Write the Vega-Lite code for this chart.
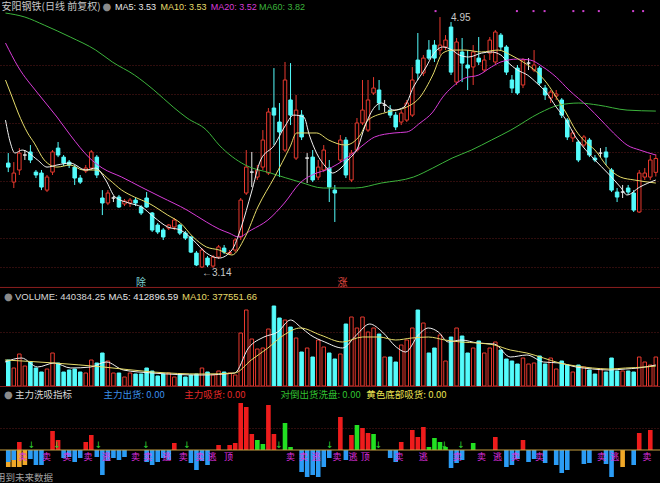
{
"$schema":"https://vega.github.io/schema/vega-lite/v6.json",
"background":"#000000","padding":0,"spacing":0,
"config":{"view":{"stroke":null},"axis":{"labels":false,"ticks":false,"domain":false,"grid":false,"minExtent":0,"maxExtent":0}},
"resolve":{"scale":{"x":"independent","y":"independent","color":"independent"}},
"datasets":{
"k":[
{"i":0,"o":3.897,"h":3.969,"l":3.832,"c":3.868,"v":520000},
{"i":1,"o":3.760,"h":3.904,"l":3.717,"c":3.825,"v":360000},
{"i":2,"o":3.847,"h":4.005,"l":3.811,"c":3.969,"v":640000},
{"i":3,"o":3.955,"h":3.991,"l":3.919,"c":3.955,"v":400000},
{"i":4,"o":3.977,"h":4.027,"l":3.897,"c":3.919,"v":480000},
{"i":5,"o":3.832,"h":3.847,"l":3.789,"c":3.811,"v":360000},
{"i":6,"o":3.825,"h":3.847,"l":3.702,"c":3.724,"v":280000},
{"i":7,"o":3.702,"h":3.811,"l":3.688,"c":3.796,"v":340000},
{"i":8,"o":3.832,"h":3.991,"l":3.811,"c":3.977,"v":660000},
{"i":9,"o":4.005,"h":4.049,"l":3.940,"c":3.955,"v":460000},
{"i":10,"o":3.940,"h":3.955,"l":3.876,"c":3.897,"v":280000},
{"i":11,"o":3.904,"h":3.919,"l":3.861,"c":3.883,"v":320000},
{"i":12,"o":3.868,"h":3.883,"l":3.739,"c":3.789,"v":340000},
{"i":13,"o":3.789,"h":3.811,"l":3.746,"c":3.760,"v":280000},
{"i":14,"o":3.840,"h":3.883,"l":3.825,"c":3.861,"v":260000},
{"i":15,"o":3.861,"h":3.991,"l":3.847,"c":3.977,"v":520000},
{"i":16,"o":3.940,"h":3.955,"l":3.789,"c":3.811,"v":460000},
{"i":17,"o":3.645,"h":3.702,"l":3.522,"c":3.609,"v":660000},
{"i":18,"o":3.609,"h":3.702,"l":3.594,"c":3.681,"v":500000},
{"i":19,"o":3.645,"h":3.659,"l":3.616,"c":3.645,"v":260000},
{"i":20,"o":3.652,"h":3.667,"l":3.573,"c":3.580,"v":260000},
{"i":21,"o":3.602,"h":3.638,"l":3.587,"c":3.623,"v":180000},
{"i":22,"o":3.609,"h":3.645,"l":3.580,"c":3.630,"v":260000},
{"i":23,"o":3.630,"h":3.645,"l":3.587,"c":3.609,"v":240000},
{"i":24,"o":3.580,"h":3.594,"l":3.522,"c":3.537,"v":240000},
{"i":25,"o":3.645,"h":3.688,"l":3.573,"c":3.580,"v":360000},
{"i":26,"o":3.537,"h":3.544,"l":3.400,"c":3.414,"v":300000},
{"i":27,"o":3.450,"h":3.465,"l":3.385,"c":3.400,"v":200000},
{"i":28,"o":3.414,"h":3.428,"l":3.342,"c":3.364,"v":240000},
{"i":29,"o":3.428,"h":3.457,"l":3.414,"c":3.450,"v":260000},
{"i":30,"o":3.436,"h":3.501,"l":3.414,"c":3.486,"v":180000},
{"i":31,"o":3.450,"h":3.457,"l":3.378,"c":3.392,"v":240000},
{"i":32,"o":3.392,"h":3.407,"l":3.342,"c":3.356,"v":180000},
{"i":33,"o":3.364,"h":3.371,"l":3.248,"c":3.255,"v":220000},
{"i":34,"o":3.248,"h":3.263,"l":3.154,"c":3.162,"v":240000},
{"i":35,"o":3.147,"h":3.284,"l":3.140,"c":3.270,"v":360000},
{"i":36,"o":3.212,"h":3.227,"l":3.147,"c":3.162,"v":280000},
{"i":37,"o":3.154,"h":3.234,"l":3.140,"c":3.219,"v":220000},
{"i":38,"o":3.219,"h":3.306,"l":3.205,"c":3.292,"v":300000},
{"i":39,"o":3.284,"h":3.306,"l":3.241,"c":3.255,"v":280000},
{"i":40,"o":3.244,"h":3.270,"l":3.234,"c":3.252,"v":260000},
{"i":41,"o":3.270,"h":3.356,"l":3.255,"c":3.342,"v":220000},
{"i":42,"o":3.364,"h":3.645,"l":3.342,"c":3.630,"v":1060000},
{"i":43,"o":3.681,"h":3.991,"l":3.667,"c":3.868,"v":1520000},
{"i":44,"o":3.832,"h":3.977,"l":3.724,"c":3.832,"v":940000},
{"i":45,"o":3.796,"h":3.883,"l":3.775,"c":3.847,"v":740000},
{"i":46,"o":3.868,"h":4.135,"l":3.847,"c":4.063,"v":760000},
{"i":47,"o":3.825,"h":4.294,"l":3.811,"c":4.265,"v":1140000},
{"i":48,"o":4.294,"h":4.582,"l":4.027,"c":4.243,"v":1600000},
{"i":49,"o":4.193,"h":4.330,"l":3.796,"c":4.121,"v":1360000},
{"i":50,"o":3.991,"h":4.626,"l":3.977,"c":4.496,"v":1320000},
{"i":51,"o":4.352,"h":4.618,"l":4.171,"c":4.243,"v":1180000},
{"i":52,"o":3.933,"h":4.388,"l":3.919,"c":4.279,"v":960000},
{"i":53,"o":4.243,"h":4.279,"l":4.063,"c":4.085,"v":680000},
{"i":54,"o":3.933,"h":3.969,"l":3.753,"c":3.933,"v":760000},
{"i":55,"o":3.940,"h":3.991,"l":3.760,"c":3.775,"v":580000},
{"i":56,"o":3.796,"h":3.919,"l":3.775,"c":3.868,"v":920000},
{"i":57,"o":3.847,"h":4.027,"l":3.832,"c":3.991,"v":780000},
{"i":58,"o":3.861,"h":3.919,"l":3.616,"c":3.724,"v":660000},
{"i":59,"o":3.702,"h":3.739,"l":3.472,"c":3.681,"v":540000},
{"i":60,"o":3.919,"h":4.099,"l":3.904,"c":4.063,"v":640000},
{"i":61,"o":4.063,"h":4.085,"l":3.789,"c":3.811,"v":1240000},
{"i":62,"o":3.775,"h":3.991,"l":3.760,"c":3.969,"v":1380000},
{"i":63,"o":3.991,"h":4.222,"l":3.977,"c":4.186,"v":1160000},
{"i":64,"o":4.186,"h":4.496,"l":4.171,"c":4.279,"v":1380000},
{"i":65,"o":4.135,"h":4.496,"l":4.121,"c":4.352,"v":1080000},
{"i":66,"o":4.402,"h":4.517,"l":4.388,"c":4.438,"v":1160000},
{"i":67,"o":4.424,"h":4.496,"l":4.279,"c":4.330,"v":1040000},
{"i":68,"o":4.315,"h":4.352,"l":4.265,"c":4.315,"v":580000},
{"i":69,"o":4.279,"h":4.315,"l":4.222,"c":4.243,"v":580000},
{"i":70,"o":4.243,"h":4.265,"l":4.135,"c":4.157,"v":480000},
{"i":71,"o":4.193,"h":4.279,"l":4.171,"c":4.258,"v":820000},
{"i":72,"o":4.207,"h":4.352,"l":4.193,"c":4.330,"v":920000},
{"i":73,"o":4.243,"h":4.590,"l":4.229,"c":4.496,"v":1160000},
{"i":74,"o":4.640,"h":4.835,"l":4.496,"c":4.546,"v":1520000},
{"i":75,"o":4.546,"h":4.676,"l":4.525,"c":4.654,"v":1260000},
{"i":76,"o":4.712,"h":4.784,"l":4.640,"c":4.654,"v":660000},
{"i":77,"o":4.748,"h":4.784,"l":4.626,"c":4.654,"v":760000},
{"i":78,"o":4.712,"h":4.950,"l":4.676,"c":4.748,"v":1020000},
{"i":79,"o":4.734,"h":4.820,"l":4.712,"c":4.784,"v":500000},
{"i":80,"o":4.878,"h":4.914,"l":4.532,"c":4.553,"v":980000},
{"i":81,"o":4.481,"h":4.799,"l":4.460,"c":4.770,"v":1160000},
{"i":82,"o":4.698,"h":4.799,"l":4.481,"c":4.618,"v":1000000},
{"i":83,"o":4.604,"h":4.712,"l":4.424,"c":4.582,"v":660000},
{"i":84,"o":4.590,"h":4.748,"l":4.460,"c":4.698,"v":760000},
{"i":85,"o":4.654,"h":4.806,"l":4.604,"c":4.626,"v":900000},
{"i":86,"o":4.568,"h":4.676,"l":4.553,"c":4.640,"v":660000},
{"i":87,"o":4.690,"h":4.806,"l":4.640,"c":4.784,"v":760000},
{"i":88,"o":4.626,"h":4.856,"l":4.611,"c":4.842,"v":880000},
{"i":89,"o":4.820,"h":4.835,"l":4.712,"c":4.734,"v":720000},
{"i":90,"o":4.734,"h":4.748,"l":4.532,"c":4.553,"v":540000},
{"i":91,"o":4.496,"h":4.532,"l":4.402,"c":4.438,"v":500000},
{"i":92,"o":4.582,"h":4.604,"l":4.388,"c":4.402,"v":440000},
{"i":93,"o":4.460,"h":4.654,"l":4.438,"c":4.640,"v":560000},
{"i":94,"o":4.618,"h":4.654,"l":4.568,"c":4.618,"v":440000},
{"i":95,"o":4.568,"h":4.712,"l":4.553,"c":4.604,"v":460000},
{"i":96,"o":4.582,"h":4.597,"l":4.460,"c":4.474,"v":600000},
{"i":97,"o":4.438,"h":4.460,"l":4.352,"c":4.388,"v":440000},
{"i":98,"o":4.366,"h":4.424,"l":4.330,"c":4.409,"v":560000},
{"i":99,"o":4.380,"h":4.424,"l":4.352,"c":4.395,"v":340000},
{"i":100,"o":4.352,"h":4.366,"l":4.222,"c":4.243,"v":500000},
{"i":101,"o":4.207,"h":4.222,"l":4.063,"c":4.085,"v":420000},
{"i":102,"o":4.078,"h":4.135,"l":4.049,"c":4.114,"v":280000},
{"i":103,"o":4.049,"h":4.063,"l":3.904,"c":3.919,"v":420000},
{"i":104,"o":4.027,"h":4.099,"l":4.013,"c":4.085,"v":380000},
{"i":105,"o":4.063,"h":4.078,"l":3.940,"c":3.955,"v":320000},
{"i":106,"o":3.933,"h":3.955,"l":3.904,"c":3.919,"v":240000},
{"i":107,"o":3.969,"h":4.005,"l":3.940,"c":3.969,"v":340000},
{"i":108,"o":3.977,"h":4.013,"l":3.883,"c":3.940,"v":280000},
{"i":109,"o":3.847,"h":3.861,"l":3.688,"c":3.702,"v":560000},
{"i":110,"o":3.688,"h":3.717,"l":3.616,"c":3.652,"v":300000},
{"i":111,"o":3.688,"h":3.739,"l":3.645,"c":3.688,"v":300000},
{"i":112,"o":3.717,"h":3.739,"l":3.667,"c":3.688,"v":300000},
{"i":113,"o":3.681,"h":3.702,"l":3.544,"c":3.558,"v":280000},
{"i":114,"o":3.544,"h":3.847,"l":3.537,"c":3.825,"v":580000},
{"i":115,"o":3.796,"h":3.861,"l":3.775,"c":3.825,"v":480000},
{"i":116,"o":3.796,"h":3.955,"l":3.775,"c":3.919,"v":420000},
{"i":117,"o":3.830,"h":3.960,"l":3.800,"c":3.930,"v":580000}
],
"ma":[
{"s":"MA60","i":-0.5,"v":4.979},{"s":"MA60","i":3,"v":4.95},{"s":"MA60","i":6.5,"v":4.892},{"s":"MA60","i":11.2,"v":4.806},{"s":"MA60","i":15.8,"v":4.712},{"s":"MA60","i":18.8,"v":4.626},{"s":"MA60","i":22.8,"v":4.532},{"s":"MA60","i":26.3,"v":4.424},{"s":"MA60","i":29.8,"v":4.301},{"s":"MA60","i":32.3,"v":4.222},{"s":"MA60","i":35.8,"v":4.135},{"s":"MA60","i":38.1,"v":4.027},{"s":"MA60","i":42.8,"v":3.883},{"s":"MA60","i":47.4,"v":3.825},{"s":"MA60","i":52.7,"v":3.760},{"s":"MA60","i":56.9,"v":3.717},{"s":"MA60","i":62.7,"v":3.717},{"s":"MA60","i":67.4,"v":3.753},{"s":"MA60","i":73.2,"v":3.796},{"s":"MA60","i":76.7,"v":3.861},{"s":"MA60","i":80.2,"v":3.933},{"s":"MA60","i":83.7,"v":3.991},{"s":"MA60","i":87.3,"v":4.063},{"s":"MA60","i":90.8,"v":4.135},{"s":"MA60","i":96,"v":4.258},{"s":"MA60","i":99.5,"v":4.315},{"s":"MA60","i":103.1,"v":4.330},{"s":"MA60","i":106.6,"v":4.315},{"s":"MA60","i":111.8,"v":4.279},{"s":"MA60","i":117,"v":4.272},
{"s":"MA20","i":-0.5,"v":4.763},{"s":"MA20","i":1.8,"v":4.590},{"s":"MA20","i":5.3,"v":4.402},{"s":"MA20","i":8.8,"v":4.229},{"s":"MA20","i":11.2,"v":4.099},{"s":"MA20","i":14.7,"v":3.933},{"s":"MA20","i":17,"v":3.861},{"s":"MA20","i":20.5,"v":3.796},{"s":"MA20","i":24,"v":3.724},{"s":"MA20","i":27.6,"v":3.652},{"s":"MA20","i":32.3,"v":3.558},{"s":"MA20","i":35.8,"v":3.472},{"s":"MA20","i":38.1,"v":3.421},{"s":"MA20","i":39.9,"v":3.392},{"s":"MA20","i":41.6,"v":3.364},{"s":"MA20","i":43.9,"v":3.414},{"s":"MA20","i":46.9,"v":3.486},{"s":"MA20","i":49.9,"v":3.609},{"s":"MA20","i":52.7,"v":3.753},{"s":"MA20","i":55.7,"v":3.825},{"s":"MA20","i":57.4,"v":3.847},{"s":"MA20","i":61.4,"v":3.940},{"s":"MA20","i":63.9,"v":4.020},{"s":"MA20","i":66.2,"v":4.085},{"s":"MA20","i":69.7,"v":4.114},{"s":"MA20","i":72,"v":4.121},{"s":"MA20","i":74.4,"v":4.186},{"s":"MA20","i":76.7,"v":4.265},{"s":"MA20","i":78.5,"v":4.373},{"s":"MA20","i":80.2,"v":4.445},{"s":"MA20","i":82.5,"v":4.510},{"s":"MA20","i":85,"v":4.532},{"s":"MA20","i":87.3,"v":4.590},{"s":"MA20","i":89,"v":4.626},{"s":"MA20","i":92,"v":4.647},{"s":"MA20","i":94.3,"v":4.640},{"s":"MA20","i":96.6,"v":4.590},{"s":"MA20","i":99,"v":4.517},{"s":"MA20","i":101.3,"v":4.424},{"s":"MA20","i":104.8,"v":4.301},{"s":"MA20","i":107.1,"v":4.207},{"s":"MA20","i":110.1,"v":4.085},{"s":"MA20","i":111.8,"v":4.027},{"s":"MA20","i":114.1,"v":3.991},{"s":"MA20","i":117,"v":3.955},
{"s":"MA10","i":-0.5,"v":4.496},{"s":"MA10","i":0.7,"v":4.373},{"s":"MA10","i":1.8,"v":4.258},{"s":"MA10","i":3.5,"v":4.114},{"s":"MA10","i":4.7,"v":4.041},{"s":"MA10","i":6.5,"v":3.919},{"s":"MA10","i":8.8,"v":3.868},{"s":"MA10","i":11.2,"v":3.883},{"s":"MA10","i":13.5,"v":3.847},{"s":"MA10","i":15.8,"v":3.847},{"s":"MA10","i":18.3,"v":3.775},{"s":"MA10","i":20.5,"v":3.702},{"s":"MA10","i":22.8,"v":3.652},{"s":"MA10","i":25.3,"v":3.609},{"s":"MA10","i":28.8,"v":3.522},{"s":"MA10","i":31.1,"v":3.465},{"s":"MA10","i":33.4,"v":3.364},{"s":"MA10","i":35.8,"v":3.292},{"s":"MA10","i":38.1,"v":3.270},{"s":"MA10","i":40.4,"v":3.234},{"s":"MA10","i":42.8,"v":3.364},{"s":"MA10","i":45.1,"v":3.580},{"s":"MA10","i":48.1,"v":3.796},{"s":"MA10","i":50.9,"v":4.013},{"s":"MA10","i":52.1,"v":4.114},{"s":"MA10","i":55.7,"v":4.114},{"s":"MA10","i":57.9,"v":4.063},{"s":"MA10","i":60.9,"v":4.027},{"s":"MA10","i":63.6,"v":4.099},{"s":"MA10","i":65,"v":4.207},{"s":"MA10","i":68.5,"v":4.265},{"s":"MA10","i":72,"v":4.301},{"s":"MA10","i":74.4,"v":4.373},{"s":"MA10","i":76.7,"v":4.532},{"s":"MA10","i":78.5,"v":4.690},{"s":"MA10","i":80.2,"v":4.712},{"s":"MA10","i":82.5,"v":4.712},{"s":"MA10","i":85.5,"v":4.698},{"s":"MA10","i":88.5,"v":4.712},{"s":"MA10","i":90.8,"v":4.676},{"s":"MA10","i":93,"v":4.626},{"s":"MA10","i":95.5,"v":4.553},{"s":"MA10","i":97.3,"v":4.474},{"s":"MA10","i":99,"v":4.373},{"s":"MA10","i":100.8,"v":4.258},{"s":"MA10","i":102.5,"v":4.135},{"s":"MA10","i":104.3,"v":4.049},{"s":"MA10","i":106,"v":3.991},{"s":"MA10","i":108.3,"v":3.868},{"s":"MA10","i":110.6,"v":3.796},{"s":"MA10","i":113.1,"v":3.775},{"s":"MA10","i":117,"v":3.753},
{"s":"MA5","i":-0.5,"v":4.207},{"s":"MA5","i":0.4,"v":4.041},{"s":"MA5","i":1.2,"v":3.969},{"s":"MA5","i":2.5,"v":3.991},{"s":"MA5","i":5.3,"v":3.919},{"s":"MA5","i":7,"v":3.868},{"s":"MA5","i":8.8,"v":3.883},{"s":"MA5","i":11.2,"v":3.897},{"s":"MA5","i":14,"v":3.847},{"s":"MA5","i":15.8,"v":3.861},{"s":"MA5","i":17.6,"v":3.775},{"s":"MA5","i":19.3,"v":3.652},{"s":"MA5","i":21.8,"v":3.609},{"s":"MA5","i":24.1,"v":3.580},{"s":"MA5","i":26.3,"v":3.508},{"s":"MA5","i":28.8,"v":3.436},{"s":"MA5","i":31.1,"v":3.414},{"s":"MA5","i":33.4,"v":3.342},{"s":"MA5","i":35.8,"v":3.248},{"s":"MA5","i":38.1,"v":3.212},{"s":"MA5","i":40.4,"v":3.270},{"s":"MA5","i":42.1,"v":3.436},{"s":"MA5","i":43.9,"v":3.681},{"s":"MA5","i":45.6,"v":3.919},{"s":"MA5","i":48.1,"v":4.027},{"s":"MA5","i":49.9,"v":4.157},{"s":"MA5","i":51.6,"v":4.243},{"s":"MA5","i":53.4,"v":4.229},{"s":"MA5","i":54.4,"v":4.099},{"s":"MA5","i":55.7,"v":3.969},{"s":"MA5","i":57.4,"v":3.868},{"s":"MA5","i":58.6,"v":3.825},{"s":"MA5","i":59.7,"v":3.847},{"s":"MA5","i":61.4,"v":3.919},{"s":"MA5","i":63.2,"v":4.013},{"s":"MA5","i":64.4,"v":4.157},{"s":"MA5","i":66.2,"v":4.301},{"s":"MA5","i":67.4,"v":4.330},{"s":"MA5","i":69.7,"v":4.279},{"s":"MA5","i":71.5,"v":4.301},{"s":"MA5","i":73.2,"v":4.445},{"s":"MA5","i":75.5,"v":4.590},{"s":"MA5","i":76.7,"v":4.676},{"s":"MA5","i":78.5,"v":4.734},{"s":"MA5","i":80.2,"v":4.712},{"s":"MA5","i":81.5,"v":4.676},{"s":"MA5","i":83.2,"v":4.662},{"s":"MA5","i":85.5,"v":4.690},{"s":"MA5","i":87.3,"v":4.698},{"s":"MA5","i":89,"v":4.676},{"s":"MA5","i":90.2,"v":4.626},{"s":"MA5","i":92,"v":4.568},{"s":"MA5","i":93.8,"v":4.532},{"s":"MA5","i":95.5,"v":4.474},{"s":"MA5","i":97.3,"v":4.402},{"s":"MA5","i":99,"v":4.301},{"s":"MA5","i":100.8,"v":4.207},{"s":"MA5","i":102.5,"v":4.085},{"s":"MA5","i":103.6,"v":4.027},{"s":"MA5","i":106,"v":3.919},{"s":"MA5","i":108.3,"v":3.825},{"s":"MA5","i":110.6,"v":3.724},{"s":"MA5","i":111.8,"v":3.667},{"s":"MA5","i":114.1,"v":3.724},{"s":"MA5","i":117,"v":3.775}
],
"vma":[
{"s":"MA5","i":-0.6,"v":480000},{"s":"MA5","i":2.4,"v":560000},{"s":"MA5","i":5.3,"v":380000},{"s":"MA5","i":8.3,"v":460000},{"s":"MA5","i":11.3,"v":360000},{"s":"MA5","i":14.9,"v":380000},{"s":"MA5","i":17.7,"v":480000},{"s":"MA5","i":20.8,"v":320000},{"s":"MA5","i":26.1,"v":260000},{"s":"MA5","i":35,"v":220000},{"s":"MA5","i":40.9,"v":260000},{"s":"MA5","i":43.4,"v":760000},{"s":"MA5","i":46.2,"v":980000},{"s":"MA5","i":48.7,"v":1080000},{"s":"MA5","i":51,"v":1320000},{"s":"MA5","i":52.8,"v":1180000},{"s":"MA5","i":54.6,"v":1020000},{"s":"MA5","i":57.2,"v":880000},{"s":"MA5","i":60.4,"v":760000},{"s":"MA5","i":62.9,"v":1020000},{"s":"MA5","i":65.3,"v":1240000},{"s":"MA5","i":67.6,"v":1080000},{"s":"MA5","i":70.1,"v":780000},{"s":"MA5","i":71.8,"v":680000},{"s":"MA5","i":74.1,"v":1020000},{"s":"MA5","i":75.9,"v":1160000},{"s":"MA5","i":77.7,"v":1080000},{"s":"MA5","i":79.5,"v":880000},{"s":"MA5","i":81.8,"v":920000},{"s":"MA5","i":84.8,"v":860000},{"s":"MA5","i":87.8,"v":840000},{"s":"MA5","i":90.7,"v":580000},{"s":"MA5","i":93.7,"v":620000},{"s":"MA5","i":96.7,"v":480000},{"s":"MA5","i":99.6,"v":460000},{"s":"MA5","i":102.6,"v":380000},{"s":"MA5","i":105.6,"v":340000},{"s":"MA5","i":108.5,"v":320000},{"s":"MA5","i":111.5,"v":340000},{"s":"MA5","i":113.8,"v":360000},{"s":"MA5","i":117,"v":420000},
{"s":"MA10","i":-0.6,"v":520000},{"s":"MA10","i":8.3,"v":460000},{"s":"MA10","i":17.2,"v":380000},{"s":"MA10","i":26.1,"v":280000},{"s":"MA10","i":35,"v":240000},{"s":"MA10","i":40.9,"v":260000},{"s":"MA10","i":43.9,"v":520000},{"s":"MA10","i":46.9,"v":760000},{"s":"MA10","i":49.8,"v":1020000},{"s":"MA10","i":52.8,"v":1160000},{"s":"MA10","i":56.4,"v":1020000},{"s":"MA10","i":60.4,"v":880000},{"s":"MA10","i":64,"v":980000},{"s":"MA10","i":67,"v":980000},{"s":"MA10","i":70,"v":920000},{"s":"MA10","i":72.9,"v":960000},{"s":"MA10","i":75.9,"v":980000},{"s":"MA10","i":78.9,"v":920000},{"s":"MA10","i":81.8,"v":880000},{"s":"MA10","i":84.8,"v":860000},{"s":"MA10","i":87.8,"v":820000},{"s":"MA10","i":90.7,"v":720000},{"s":"MA10","i":93.7,"v":660000},{"s":"MA10","i":96.7,"v":560000},{"s":"MA10","i":99.6,"v":460000},{"s":"MA10","i":102.6,"v":400000},{"s":"MA10","i":105.6,"v":360000},{"s":"MA10","i":108.5,"v":340000},{"s":"MA10","i":111.5,"v":360000},{"s":"MA10","i":115.1,"v":380000},{"s":"MA10","i":117,"v":400000}
],
"ind":[
{"i":0,"val":-1.7,"k":"底部"},{"i":1,"val":-1.7,"k":"底部"},{"i":2,"val":-1.7,"k":"底部"},{"i":3,"val":-1.5,"k":"底部"},{"i":111,"val":-1.7,"k":"底部"},
{"i":0,"val":-1.2,"k":"出货"},{"i":1,"val":-1.0,"k":"出货"},{"i":4,"val":-0.9,"k":"出货"},{"i":5,"val":-1.5,"k":"出货"},{"i":6,"val":-1.5,"k":"出货"},{"i":10,"val":-0.8,"k":"出货"},{"i":11,"val":-0.7,"k":"出货"},{"i":12,"val":-1.2,"k":"出货"},{"i":13,"val":-0.8,"k":"出货"},{"i":16,"val":-0.7,"k":"出货"},{"i":17,"val":-2.5,"k":"出货"},{"i":18,"val":-1.1,"k":"出货"},{"i":19,"val":-0.8,"k":"出货"},{"i":20,"val":-1.0,"k":"出货"},{"i":21,"val":-0.7,"k":"出货"},{"i":25,"val":-1.2,"k":"出货"},{"i":26,"val":-1.5,"k":"出货"},{"i":27,"val":-1.2,"k":"出货"},{"i":28,"val":-0.8,"k":"出货"},{"i":29,"val":-1.0,"k":"出货"},{"i":33,"val":-1.3,"k":"出货"},{"i":34,"val":-2.0,"k":"出货"},{"i":35,"val":-1.1,"k":"出货"},{"i":36,"val":-1.5,"k":"出货"},{"i":53,"val":-2.2,"k":"出货"},{"i":54,"val":-2.7,"k":"出货"},{"i":55,"val":-2.5,"k":"出货"},{"i":56,"val":-2.7,"k":"出货"},{"i":57,"val":-1.7,"k":"出货"},{"i":58,"val":-0.8,"k":"出货"},{"i":61,"val":-1.0,"k":"出货"},{"i":69,"val":-0.8,"k":"出货"},{"i":70,"val":-1.2,"k":"出货"},{"i":80,"val":-1.8,"k":"出货"},{"i":81,"val":-1.3,"k":"出货"},{"i":82,"val":-1.0,"k":"出货"},{"i":90,"val":-1.7,"k":"出货"},{"i":91,"val":-1.5,"k":"出货"},{"i":92,"val":-0.9,"k":"出货"},{"i":94,"val":-1.2,"k":"出货"},{"i":95,"val":-0.9,"k":"出货"},{"i":97,"val":-1.3,"k":"出货"},{"i":99,"val":-1.5,"k":"出货"},{"i":100,"val":-2.3,"k":"出货"},{"i":101,"val":-2.0,"k":"出货"},{"i":104,"val":-1.4,"k":"出货"},{"i":105,"val":-1.3,"k":"出货"},{"i":108,"val":-1.4,"k":"出货"},{"i":109,"val":-2.7,"k":"出货"},{"i":113,"val":-1.5,"k":"出货"},
{"i":2,"val":0.8,"k":"吸货"},{"i":8,"val":1.9,"k":"吸货"},{"i":9,"val":1.0,"k":"吸货"},{"i":14,"val":0.8,"k":"吸货"},{"i":15,"val":1.5,"k":"吸货"},{"i":30,"val":0.7,"k":"吸货"},{"i":38,"val":0.5,"k":"吸货"},{"i":40,"val":0.5,"k":"吸货"},{"i":41,"val":0.7,"k":"吸货"},{"i":42,"val":4.7,"k":"吸货"},{"i":43,"val":4.3,"k":"吸货"},{"i":44,"val":1.6,"k":"吸货"},{"i":47,"val":4.5,"k":"吸货"},{"i":48,"val":1.6,"k":"吸货"},{"i":60,"val":3.3,"k":"吸货"},{"i":62,"val":1.5,"k":"吸货"},{"i":64,"val":2.2,"k":"吸货"},{"i":65,"val":1.7,"k":"吸货"},{"i":71,"val":0.8,"k":"吸货"},{"i":73,"val":2.0,"k":"吸货"},{"i":74,"val":1.3,"k":"吸货"},{"i":75,"val":2.3,"k":"吸货"},{"i":88,"val":1.3,"k":"吸货"},{"i":93,"val":1.0,"k":"吸货"},{"i":114,"val":1.7,"k":"吸货"},{"i":116,"val":2.0,"k":"吸货"},
{"i":45,"val":1.0,"k":"洗盘"},{"i":46,"val":0.6,"k":"洗盘"},{"i":50,"val":2.7,"k":"洗盘"},{"i":51,"val":0.3,"k":"洗盘"},{"i":63,"val":2.5,"k":"洗盘"},{"i":66,"val":1.6,"k":"洗盘"},{"i":76,"val":0.3,"k":"洗盘"},{"i":77,"val":1.2,"k":"洗盘"},{"i":78,"val":0.8,"k":"洗盘"},{"i":79,"val":0.3,"k":"洗盘"},{"i":84,"val":0.7,"k":"洗盘"}
],
"sig":[
{"i":2.6,"t":"卖"},{"i":6.9,"t":"卖"},{"i":10.6,"t":"卖"},{"i":14.4,"t":"卖"},{"i":17.7,"t":"逃"},{"i":23,"t":"卖"},{"i":25.2,"t":"卖"},{"i":28.6,"t":"逃"},{"i":31.6,"t":"卖"},{"i":34.6,"t":"卖"},{"i":36.8,"t":"逃"},{"i":39.8,"t":"顶"},{"i":51,"t":"卖"},{"i":53.3,"t":"卖"},{"i":55.6,"t":"逃"},{"i":59.4,"t":"卖"},{"i":62.3,"t":"逃"},{"i":64.5,"t":"顶"},{"i":70.6,"t":"卖"},{"i":75,"t":"逃"},{"i":81.1,"t":"卖"},{"i":85.5,"t":"卖"},{"i":88.4,"t":"逃"},{"i":91.6,"t":"卖"},{"i":96,"t":"卖"},{"i":107.2,"t":"卖"},{"i":109.6,"t":"逃"},{"i":115.4,"t":"卖"}
],
"arr":[{"i":4.2},{"i":8.8},{"i":16.3},{"i":24.9},{"i":32.3},{"i":48.9},{"i":58.1},{"i":66.9},{"i":78.8},{"i":81.8}],
"dots":[{"i":77.2},{"i":91.9},{"i":94.9},{"i":96.9},{"i":102.1},{"i":103.9},{"i":106.7},{"i":112.9},{"i":114.7}]
},
"vconcat":[
{"width":660,"height":288,
"layer":[
{"data":{"name":"k"},"mark":{"type":"rule","clip":true,"strokeWidth":1},
"encoding":{
"x":{"field":"i","type":"quantitative","title":null,"scale":{"domain":[-0.59,116.85],"nice":false,"zero":false}},
"y":{"field":"l","type":"quantitative","title":null,"scale":{"domain":[2.996,5.073],"nice":false,"zero":false},"axis":{"values":[4.604,4.395,4.186,3.977,3.767,3.565,3.356,3.147],"grid":true,"gridColor":"#5e1a1a","gridDash":[1,2],"labels":false,"ticks":false,"domain":false}},
"y2":{"field":"h"},
"color":{"condition":[{"test":"datum.c < datum.o","value":"#54fcfc"},{"test":"datum.c > datum.o","value":"#e8392e"}],"value":"#e8e8e8"}}},
{"data":{"name":"k"},"mark":{"type":"bar","width":3.5,"clip":true,"strokeWidth":1},
"encoding":{
"x":{"field":"i","type":"quantitative","title":null},
"y":{"field":"o","type":"quantitative","title":null},
"y2":{"field":"c"},
"fill":{"condition":{"test":"datum.c < datum.o","value":"#54fcfc"},"value":"#000000"},
"stroke":{"condition":[{"test":"datum.c < datum.o","value":"#54fcfc"},{"test":"datum.c > datum.o","value":"#e8392e"}],"value":"#e8e8e8"}}},
{"data":{"name":"ma"},"mark":{"type":"line","clip":true,"strokeWidth":1,"interpolate":"monotone"},
"encoding":{
"x":{"field":"i","type":"quantitative","title":null},
"y":{"field":"v","type":"quantitative","title":null},
"color":{"field":"s","type":"nominal","legend":null,"scale":{"domain":["MA5","MA10","MA20","MA60"],"range":["#f2f2f2","#e6dc6a","#d83cd8","#3cb43c"]}}}},
{"data":{"name":"dots"},"mark":{"type":"square","size":4,"clip":true,"color":"#d040d0","opacity":1},
"encoding":{"x":{"field":"i","type":"quantitative","title":null},"y":{"datum":4.993}}},
{"data":{"values":[{}]},"mark":{"type":"text","align":"left","baseline":"middle","fontSize":10,"font":"Noto Sans CJK SC","clip":true},
"encoding":{"x":{"datum":-1.2},"y":{"datum":5.02},"text":{"value":"安阳钢铁(日线 前复权)"},"color":{"value":"#c8c8c8"}}},
{"data":{"values":[{}]},"mark":{"type":"text","align":"center","baseline":"middle","fontSize":10,"font":"DejaVu Sans","clip":true},
"encoding":{"x":{"datum":17.8},"y":{"datum":5.02},"text":{"value":"●"},"color":{"value":"#8a8a8a"}}},
{"data":{"values":[{}]},"mark":{"type":"text","align":"left","baseline":"middle","fontSize":9,"font":"Liberation Sans","clip":true},
"encoding":{"x":{"datum":19.3},"y":{"datum":5.02},"text":{"value":"MA5: 3.53"},"color":{"value":"#e8e8e8"}}},
{"data":{"values":[{}]},"mark":{"type":"text","align":"left","baseline":"middle","fontSize":9,"font":"Liberation Sans","clip":true},
"encoding":{"x":{"datum":27.5},"y":{"datum":5.02},"text":{"value":"MA10: 3.53"},"color":{"value":"#e6dc6a"}}},
{"data":{"values":[{}]},"mark":{"type":"text","align":"left","baseline":"middle","fontSize":9,"font":"Liberation Sans","clip":true},
"encoding":{"x":{"datum":36.6},"y":{"datum":5.02},"text":{"value":"MA20: 3.52"},"color":{"value":"#d83cd8"}}},
{"data":{"values":[{}]},"mark":{"type":"text","align":"left","baseline":"middle","fontSize":9,"font":"Liberation Sans","clip":true},
"encoding":{"x":{"datum":45.3},"y":{"datum":5.02},"text":{"value":"MA60: 3.82"},"color":{"value":"#3cb43c"}}},
{"data":{"values":[{}]},"mark":{"type":"text","align":"left","baseline":"middle","fontSize":10,"font":"Liberation Sans","clip":true},
"encoding":{"x":{"datum":80.0},"y":{"datum":4.943},"text":{"value":"4.95"},"color":{"value":"#c8c8c8"}}},
{"data":{"values":[{}]},"mark":{"type":"text","align":"left","baseline":"middle","fontSize":10,"font":"Liberation Sans","clip":true},
"encoding":{"x":{"datum":35.0},"y":{"datum":3.104},"text":{"value":"←3.14"},"color":{"value":"#c8c8c8"}}},
{"data":{"values":[{}]},"mark":{"type":"text","align":"center","baseline":"middle","fontSize":10,"font":"Noto Sans CJK SC","clip":true},
"encoding":{"x":{"datum":23.97},"y":{"datum":3.032},"text":{"value":"除"},"color":{"value":"#7fd4d4"}}},
{"data":{"values":[{}]},"mark":{"type":"text","align":"center","baseline":"middle","fontSize":10,"font":"Noto Sans CJK SC","clip":true},
"encoding":{"x":{"datum":60.4},"y":{"datum":3.032},"text":{"value":"涨"},"color":{"value":"#e04a40"}}},
{"data":{"values":[{}]},"mark":{"type":"rule","clip":true,"strokeWidth":1,"color":"#8c1e1e"},
"encoding":{"y":{"datum":3.0}}}
]},
{"width":660,"height":99,
"layer":[
{"data":{"name":"k"},"mark":{"type":"bar","width":3.5,"clip":true,"strokeWidth":1},
"encoding":{
"x":{"field":"i","type":"quantitative","title":null,"scale":{"domain":[-0.59,116.85],"nice":false,"zero":false}},
"y":{"field":"v","type":"quantitative","title":null,"scale":{"domain":[-20000,1960000],"nice":false,"zero":false},"axis":{"values":[1080000],"grid":true,"gridColor":"#5e1a1a","gridDash":[1,2],"labels":false,"ticks":false,"domain":false}},
"y2":{"datum":0},
"fill":{"condition":{"test":"datum.c >= datum.o","value":"#000000"},"value":"#54fcfc"},
"stroke":{"condition":{"test":"datum.c >= datum.o","value":"#e8392e"},"value":"#54fcfc"}}},
{"data":{"name":"vma"},"mark":{"type":"line","clip":true,"strokeWidth":1,"interpolate":"monotone"},
"encoding":{
"x":{"field":"i","type":"quantitative","title":null},
"y":{"field":"v","type":"quantitative","title":null},
"color":{"field":"s","type":"nominal","legend":null,"scale":{"domain":["MA5","MA10"],"range":["#f2f2f2","#e6dc6a"]}}}},
{"data":{"values":[{}]},"mark":{"type":"text","align":"center","baseline":"middle","fontSize":10,"font":"DejaVu Sans","clip":true},
"encoding":{"x":{"datum":0},"y":{"datum":1780000},"text":{"value":"●"},"color":{"value":"#8a8a8a"}}},
{"data":{"values":[{}]},"mark":{"type":"text","align":"left","baseline":"middle","fontSize":9.5,"font":"Liberation Sans","clip":true},
"encoding":{"x":{"datum":1.2},"y":{"datum":1780000},"text":{"value":"VOLUME: 440384.25"},"color":{"value":"#d8d8d8"}}},
{"data":{"values":[{}]},"mark":{"type":"text","align":"left","baseline":"middle","fontSize":9.5,"font":"Liberation Sans","clip":true},
"encoding":{"x":{"datum":18.1},"y":{"datum":1780000},"text":{"value":"MA5: 412896.59"},"color":{"value":"#e8e8e8"}}},
{"data":{"values":[{}]},"mark":{"type":"text","align":"left","baseline":"middle","fontSize":9.5,"font":"Liberation Sans","clip":true},
"encoding":{"x":{"datum":31.4},"y":{"datum":1780000},"text":{"value":"MA10: 377551.66"},"color":{"value":"#e6dc6a"}}},
{"data":{"values":[{}]},"mark":{"type":"rule","clip":true,"strokeWidth":1,"color":"#8c1e1e"},
"encoding":{"y":{"datum":-12000}}}
]},
{"width":660,"height":96,
"layer":[
{"data":{"name":"ind"},"mark":{"type":"bar","width":4.6,"clip":true},
"encoding":{
"x":{"field":"i","type":"quantitative","title":null,"scale":{"domain":[-0.59,116.85],"nice":false,"zero":false}},
"y":{"field":"val","type":"quantitative","title":null,"scale":{"domain":[-3.3,6.3],"nice":false,"zero":false},"axis":{"values":[2.2],"grid":true,"gridColor":"#5e1a1a","gridDash":[1,2],"labels":false,"ticks":false,"domain":false}},
"y2":{"datum":0},
"color":{"field":"k","type":"nominal","legend":null,"scale":{"domain":["吸货","洗盘","出货","底部"],"range":["#ee1c1c","#22e022","#2b9cf5","#f0a828"]}}}},
{"data":{"values":[{}]},"mark":{"type":"rule","clip":true,"strokeWidth":1,"color":"#c8a040"},
"encoding":{"y":{"datum":0}}},
{"data":{"name":"sig"},"mark":{"type":"text","align":"center","baseline":"middle","fontSize":9,"font":"Noto Sans CJK SC","clip":true,"color":"#e030e0"},
"encoding":{"x":{"field":"i","type":"quantitative","title":null},"y":{"datum":-0.65},"text":{"field":"t"}}},
{"data":{"name":"arr"},"mark":{"type":"text","align":"center","baseline":"middle","fontSize":9,"font":"DejaVu Sans","clip":true,"color":"#30d030"},
"encoding":{"x":{"field":"i","type":"quantitative","title":null},"y":{"datum":0.55},"text":{"value":"↓"}}},
{"data":{"values":[{}]},"mark":{"type":"text","align":"center","baseline":"middle","fontSize":10,"font":"DejaVu Sans","clip":true},
"encoding":{"x":{"datum":0},"y":{"datum":5.5},"text":{"value":"●"},"color":{"value":"#8a8a8a"}}},
{"data":{"values":[{}]},"mark":{"type":"text","align":"left","baseline":"middle","fontSize":9.5,"font":"Noto Sans CJK SC","clip":true},
"encoding":{"x":{"datum":1.2},"y":{"datum":5.5},"text":{"value":"主力洗吸指标"},"color":{"value":"#d8d8d8"}}},
{"data":{"values":[{}]},"mark":{"type":"text","align":"left","baseline":"middle","fontSize":9.5,"font":"Noto Sans CJK SC","clip":true},
"encoding":{"x":{"datum":17.2},"y":{"datum":5.5},"text":{"value":"主力出货: 0.00"},"color":{"value":"#3a8ee8"}}},
{"data":{"values":[{}]},"mark":{"type":"text","align":"left","baseline":"middle","fontSize":9.5,"font":"Noto Sans CJK SC","clip":true},
"encoding":{"x":{"datum":31.8},"y":{"datum":5.5},"text":{"value":"主力吸货: 0.00"},"color":{"value":"#e02828"}}},
{"data":{"values":[{}]},"mark":{"type":"text","align":"left","baseline":"middle","fontSize":9.5,"font":"Noto Sans CJK SC","clip":true},
"encoding":{"x":{"datum":49.2},"y":{"datum":5.5},"text":{"value":"对倒出货洗盘: 0.00"},"color":{"value":"#30c030"}}},
{"data":{"values":[{}]},"mark":{"type":"text","align":"left","baseline":"middle","fontSize":9.5,"font":"Noto Sans CJK SC","clip":true},
"encoding":{"x":{"datum":64.7},"y":{"datum":5.5},"text":{"value":"黄色底部吸货: 0.00"},"color":{"value":"#e8e050"}}},
{"data":{"values":[{}]},"mark":{"type":"text","align":"left","baseline":"middle","fontSize":9.5,"font":"Noto Sans CJK SC","clip":true},
"encoding":{"x":{"datum":-2.2},"y":{"datum":-2.8},"text":{"value":"用到未来数据"},"color":{"value":"#a0a0a0"}}}
]}
]
}
